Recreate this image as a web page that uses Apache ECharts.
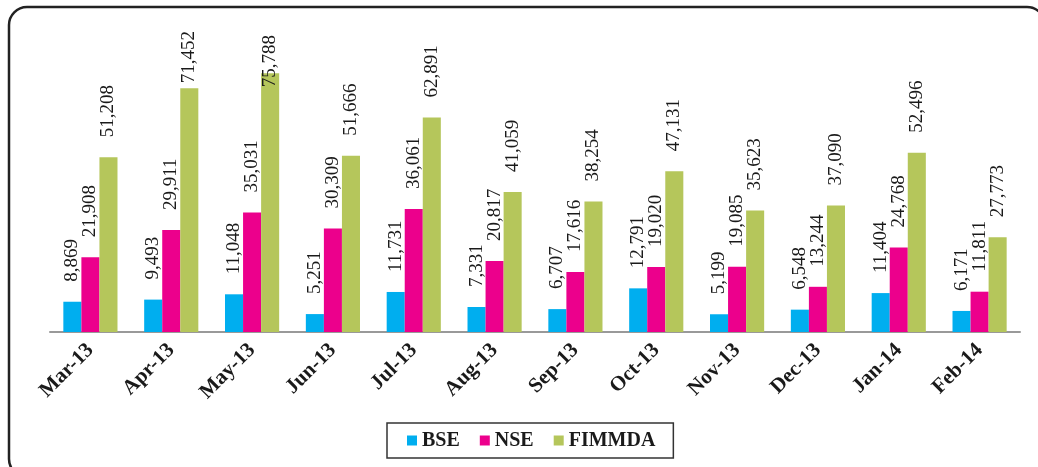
<!DOCTYPE html>
<html>
<head>
<meta charset="utf-8">
<script src="https://cdn.jsdelivr.net/npm/echarts@6/dist/echarts.min.js"></script>
<style>
  html, body { margin: 0; padding: 0; background: #fff; }
  #chart { width: 1038px; height: 467px; }
</style>
</head>
<body>
<div id="chart"></div>
<script>
const months = ['Mar-13', 'Apr-13', 'May-13', 'Jun-13', 'Jul-13', 'Aug-13', 'Sep-13', 'Oct-13', 'Nov-13', 'Dec-13', 'Jan-14', 'Feb-14']
const bse = [8869, 9493, 11048, 5251, 11731, 7331, 6707, 12791, 5199, 6548, 11404, 6171]
const nse = [21908, 29911, 35031, 30309, 36061, 20817, 17616, 19020, 19085, 13244, 24768, 11811]
const fimmda = [51208, 71452, 75788, 51666, 62891, 41059, 38254, 47131, 35623, 37090, 52496, 27773]

const serif = '"Liberation Serif", "Times New Roman", serif'
const fmt = v => v.toLocaleString('en-US')

// excel pushed a couple of labels down where they ran out of room at the top
const labelDistance = { 1: 5, 2: -14 }

const barLabel = {
  show: true,
  position: 'top',
  rotate: 90,
  align: 'left',
  verticalAlign: 'middle',
  distance: 20,
  fontFamily: serif,
  fontSize: 19,
  color: '#1a1a1a',
  formatter: p => fmt(p.value)
}

const makeSeries = (name, values, color, overrides = {}) => ({
  name,
  type: 'bar',
  barGap: 0,
  barCategoryGap: '33%',
  itemStyle: { color },
  label: barLabel,
  data: values.map((v, i) =>
    overrides[i] !== undefined ? { value: v, label: { distance: overrides[i] } } : v)
})

const chart = echarts.init(document.getElementById('chart'))
chart.setOption({
  animation: false,
  grid: { left: 50, right: 18, top: 59, bottom: 135 },
  graphic: [{
    type: 'rect',
    shape: { x: 9, y: 7, width: 1036, height: 470, r: 18 },
    style: { fill: 'none', stroke: '#222', lineWidth: 2.5 },
    silent: true
  }],
  legend: {
    left: 387,
    top: 423,
    itemWidth: 10,
    itemHeight: 10,
    itemGap: 20,
    padding: [7, 18, 7, 20],
    borderColor: '#333',
    borderWidth: 1.5,
    icon: 'rect',
    textStyle: { fontFamily: serif, fontWeight: 'bold', fontSize: 20, color: '#1a1a1a', lineHeight: 21 }
  },
  xAxis: {
    type: 'category',
    data: months,
    axisLine: { lineStyle: { color: '#999', width: 2 } },
    axisTick: { show: false },
    axisLabel: {
      rotate: 45,
      margin: 15,
      interval: 0,
      fontFamily: serif,
      fontWeight: 'bold',
      fontSize: 21,
      color: '#1a1a1a'
    }
  },
  yAxis: {
    type: 'value',
    min: 0,
    max: 80000,
    show: false,
    splitLine: { show: false }
  },
  series: [
    makeSeries('BSE', bse, '#00AEEF'),
    makeSeries('NSE', nse, '#EC008C'),
    makeSeries('FIMMDA', fimmda, '#B5C65B', labelDistance)
  ]
})
</script>
</body>
</html>
